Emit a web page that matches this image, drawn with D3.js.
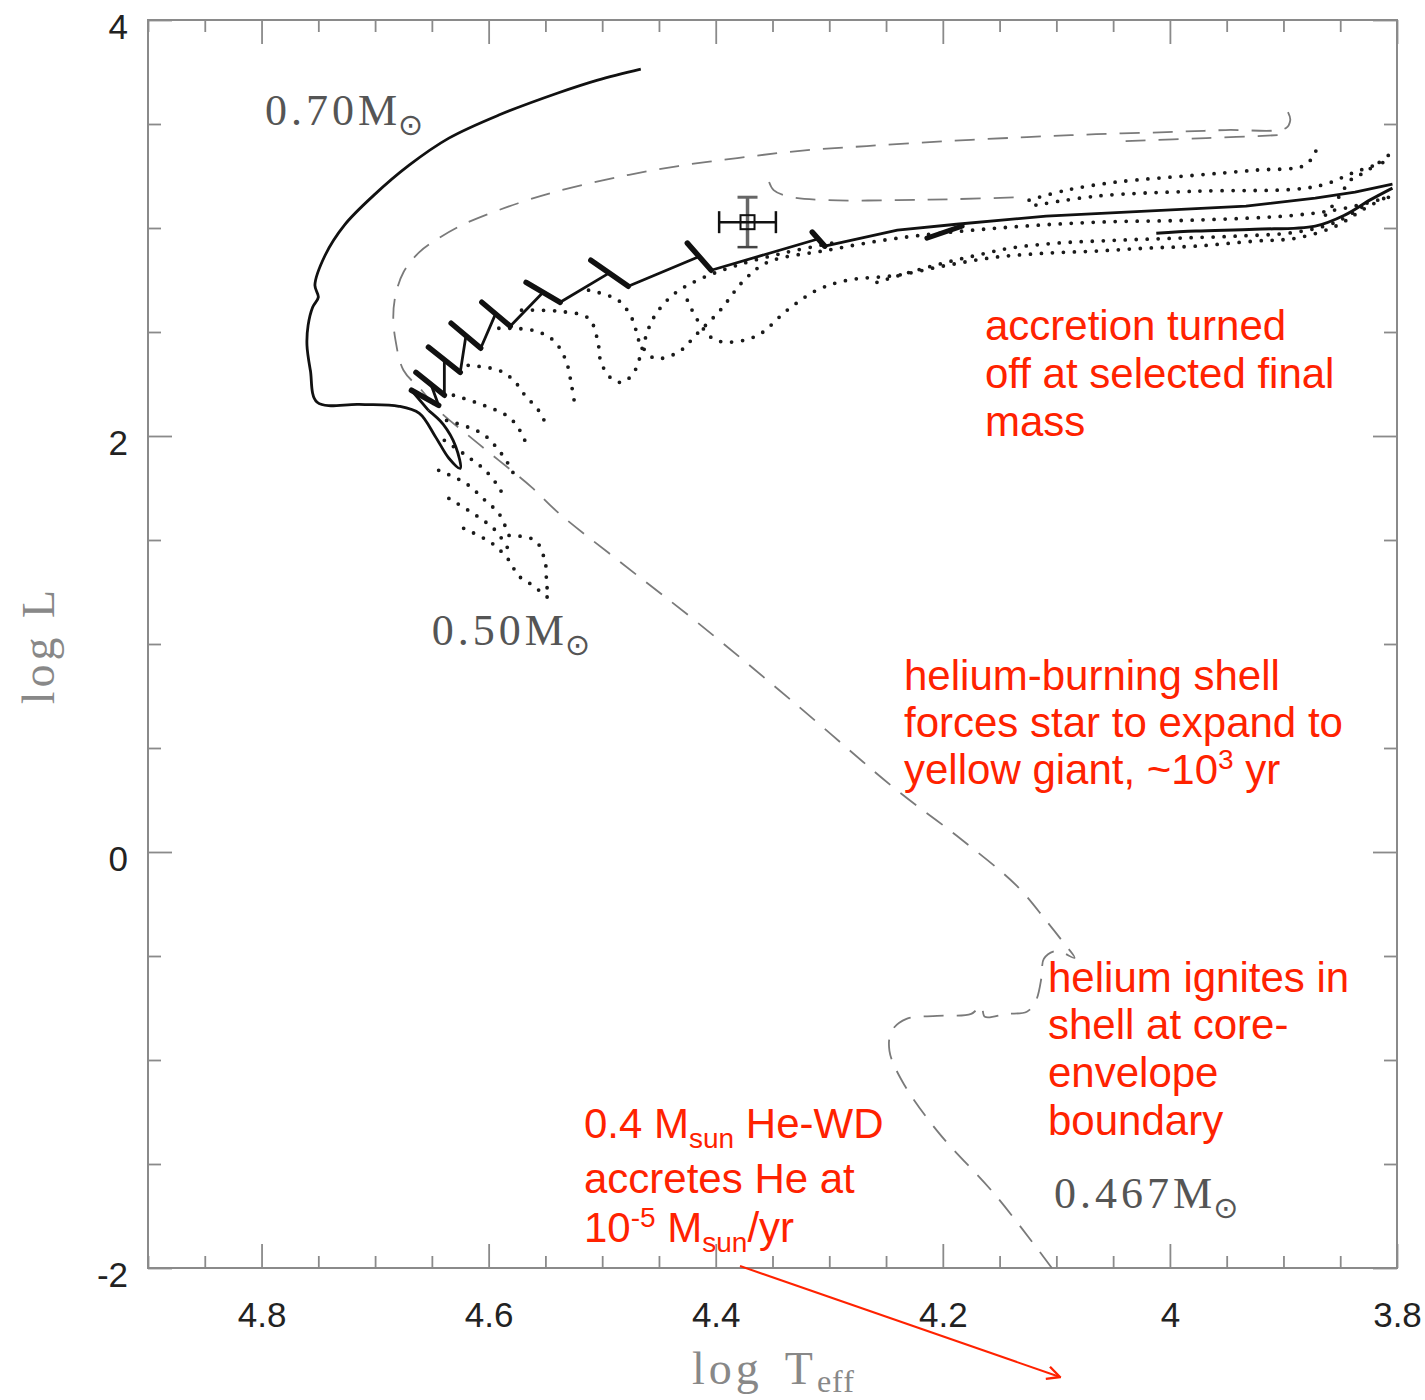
<!DOCTYPE html>
<html>
<head>
<meta charset="utf-8">
<script src="https://cdn.jsdelivr.net/npm/d3@7"></script>
<style>
  body { margin: 0; background: #fff; }
</style>
</head>
<body>
<svg width="1425" height="1400"></svg>
<script>
// all points are [log Teff, log L]

// 0.70 Msun track, smooth part down to the first flash loop
var track070 = [
  [4.466, 3.764], [4.504, 3.711], [4.539, 3.649], [4.591, 3.543], [4.635, 3.432],
  [4.670, 3.302], [4.701, 3.158], [4.727, 3.014], [4.744, 2.869], [4.753, 2.725],
  [4.750, 2.667], [4.755, 2.619], [4.759, 2.532], [4.760, 2.436], [4.757, 2.316],
  [4.751, 2.162], [4.714, 2.152], [4.679, 2.143], [4.661, 2.109], [4.647, 1.998],
  [4.635, 1.893], [4.625, 1.844], [4.629, 1.950], [4.640, 2.056], [4.653, 2.123]
];
// shell flashes (saw teeth: rise, tip, drop) and the run to the red giant branch
var loops070 = [
  [4.653, 2.123], [4.668, 2.220], [4.644, 2.147],
  [4.651, 2.251], [4.664, 2.306], [4.639, 2.196],
  [4.639, 2.367], [4.653, 2.427], [4.625, 2.306],
  [4.620, 2.482], [4.633, 2.542], [4.607, 2.422],
  [4.594, 2.586], [4.606, 2.643], [4.581, 2.528],
  [4.552, 2.691], [4.567, 2.739], [4.537, 2.643],
  [4.494, 2.783], [4.510, 2.845], [4.477, 2.720],
  [4.415, 2.862], [4.425, 2.927], [4.404, 2.797],
  [4.310, 2.947], [4.315, 2.980], [4.304, 2.913],
  [4.240, 2.990], [4.188, 3.018], [4.109, 3.057], [4.021, 3.081],
  [3.933, 3.105], [3.872, 3.144], [3.837, 3.172], [3.804, 3.211]
];
var track070b = [
  [4.012, 2.975], [3.977, 2.985], [3.925, 2.994], [3.872, 3.009],
  [3.846, 3.062], [3.824, 3.134], [3.804, 3.192]
];
var spike070 = [[4.214, 2.951], [4.183, 3.009]];

// 0.467 Msun track (dashed)
var track0467 = [
  [4.104, -2.0], [4.153, -1.654], [4.205, -1.341], [4.236, -1.100], [4.247, -0.956],
  [4.245, -0.860], [4.232, -0.802], [4.205, -0.788], [4.175, -0.778], [4.166, -0.740],
  [4.163, -0.792], [4.144, -0.778], [4.126, -0.768], [4.118, -0.715], [4.113, -0.600],
  [4.111, -0.513], [4.100, -0.475], [4.084, -0.509], [4.093, -0.441], [4.109, -0.330],
  [4.135, -0.162], [4.188, 0.079], [4.240, 0.295], [4.328, 0.704], [4.416, 1.103],
  [4.486, 1.402], [4.539, 1.633], [4.562, 1.753], [4.591, 1.883], [4.618, 2.003],
  [4.644, 2.123], [4.659, 2.220], [4.675, 2.316], [4.682, 2.460], [4.684, 2.571],
  [4.682, 2.677], [4.675, 2.787], [4.661, 2.884], [4.644, 2.951], [4.620, 3.023],
  [4.574, 3.119], [4.539, 3.177], [4.486, 3.245], [4.433, 3.298], [4.381, 3.336],
  [4.328, 3.370], [4.267, 3.394], [4.196, 3.418], [4.126, 3.437], [4.065, 3.451],
  [4.003, 3.461], [3.951, 3.471], [3.898, 3.480], [3.894, 3.519], [3.896, 3.557]
];
var track0467b = [[4.039, 3.418], [3.968, 3.432], [3.902, 3.447]];
var track0467c = [
  [4.353, 3.221], [4.349, 3.182], [4.337, 3.153], [4.302, 3.134],
  [4.240, 3.134], [4.188, 3.139], [4.131, 3.148]
];

// intermediate masses (dotted)
var dotTracks = [
  [[4.124, 3.134], [4.091, 3.182], [4.047, 3.221], [3.977, 3.254], [3.925, 3.278],
   [3.881, 3.302], [3.872, 3.365], [3.868, 3.408]],
  [[4.118, 3.110], [4.065, 3.153], [3.977, 3.177], [3.889, 3.187], [3.863, 3.211],
   [3.837, 3.269], [3.806, 3.326]],
  [[4.571, 2.605], [4.539, 2.600], [4.512, 2.566], [4.504, 2.460], [4.501, 2.354],
   [4.492, 2.277], [4.482, 2.258], [4.471, 2.316], [4.464, 2.436], [4.455, 2.566],
   [4.438, 2.677], [4.416, 2.749], [4.381, 2.821], [4.337, 2.884], [4.293, 2.932]],
  [[4.512, 2.701], [4.486, 2.653], [4.473, 2.557], [4.467, 2.451], [4.454, 2.374],
   [4.433, 2.403], [4.416, 2.494], [4.396, 2.605], [4.375, 2.749], [4.354, 2.836],
   [4.302, 2.893], [4.240, 2.951], [4.153, 2.999], [4.065, 3.028], [3.977, 3.038],
   [3.889, 3.062], [3.846, 3.095], [3.804, 3.153]],
  [[4.425, 2.653], [4.416, 2.557], [4.403, 2.470], [4.389, 2.451], [4.363, 2.484],
   [4.337, 2.605], [4.311, 2.701], [4.284, 2.749], [4.240, 2.773], [4.196, 2.821],
   [4.153, 2.860], [4.109, 2.879], [4.065, 2.889], [4.021, 2.903], [3.977, 2.913],
   [3.925, 2.937], [3.889, 2.951], [3.854, 3.009], [3.828, 3.095], [3.804, 3.163]],
  [[4.258, 2.739], [4.223, 2.797], [4.196, 2.836], [4.170, 2.869], [4.141, 2.903],
   [4.100, 2.927], [4.047, 2.941], [3.995, 2.951], [3.942, 2.961], [3.889, 2.980],
   [3.854, 3.028], [3.828, 3.110]],
  [[3.863, 3.062], [3.850, 3.158], [3.841, 3.230], [3.833, 3.254], [3.819, 3.302],
   [3.804, 3.365]],
  [[4.591, 2.518], [4.561, 2.508], [4.543, 2.460], [4.532, 2.364], [4.527, 2.244],
   [4.524, 2.147]],
  [[4.618, 2.340], [4.591, 2.316], [4.578, 2.268], [4.568, 2.196], [4.556, 2.123],
   [4.549, 2.051]],
  [[4.631, 2.196], [4.604, 2.147], [4.582, 2.090], [4.571, 2.013], [4.565, 1.931]],
  [[4.637, 2.075], [4.606, 2.013], [4.591, 1.931], [4.582, 1.859], [4.576, 1.796]],
  [[4.639, 1.979], [4.620, 1.907], [4.603, 1.835], [4.591, 1.753], [4.585, 1.690]],
  [[4.644, 1.835], [4.620, 1.772], [4.603, 1.690], [4.591, 1.628], [4.585, 1.561]],
  [[4.635, 1.700], [4.611, 1.618], [4.594, 1.546], [4.582, 1.450]],
  [[4.622, 1.556], [4.597, 1.484], [4.582, 1.402], [4.574, 1.330], [4.561, 1.281],
   [4.547, 1.219]],
  [[4.582, 1.522], [4.559, 1.498], [4.550, 1.387], [4.549, 1.291], [4.547, 1.219]]
];

// observed star with error bars
var star = { logT: 4.372, logL: 3.028, errT: 0.025, errL: 0.12 };

var xTicks = [4.8, 4.6, 4.4, 4.2, 4.0, 3.8];
var xTickLabels = ["4.8", "4.6", "4.4", "4.2", "4", "3.8"];
var yTicks = [4, 2, 0, -2];
var yTickLabels = ["4", "2", "0", "-2"];

var massLabels = [
  { text: "0.70M", logT: 4.797, logL: 3.495 },
  { text: "0.50M", logT: 4.650, logL: 0.993 },
  { text: "0.467M", logT: 4.102, logL: -1.711 }
];

main();

function main() {
  var svg = d3.select("svg"),
    margin = { top: 20, right: 28, bottom: 132, left: 148 },
    width = +svg.attr("width") - margin.left - margin.right,
    height = +svg.attr("height") - margin.top - margin.bottom;

  var x = d3.scaleLinear().domain([4.9, 3.8]).range([0, width]);
  var y = d3.scaleLinear().domain([-2, 4]).range([height, 0]);

  var g = svg.append("g").attr("transform", "translate(" + margin.left + "," + margin.top + ")");

  var smooth = d3.line()
    .x(function(d) { return x(d[0]); })
    .y(function(d) { return y(d[1]); })
    .curve(d3.curveCatmullRom.alpha(0.5));
  var sharp = d3.line()
    .x(function(d) { return x(d[0]); })
    .y(function(d) { return y(d[1]); });

  // axes: major and minor ticks on all four sides, pointing inward
  var xMinor = d3.range(3.8, 4.9001, 0.05).filter(function(v) { return Math.abs(v * 5 - Math.round(v * 5)) > 1e-6; });
  var yMinor = [3.5, 3, 2.5, 1.5, 1, 0.5, -0.5, -1, -1.5];

  g.append("g").attr("transform", "translate(0," + height + ")")
    .call(d3.axisBottom(x).tickValues(xTicks).tickSize(-24).tickPadding(34)
      .tickFormat(function(d, i) { return xTickLabels[i]; }));
  g.append("g").attr("transform", "translate(0," + height + ")")
    .call(d3.axisBottom(x).tickValues(xMinor).tickSize(-12).tickFormat(""));
  g.append("g").call(d3.axisTop(x).tickValues(xTicks).tickSize(-24).tickFormat(""));
  g.append("g").call(d3.axisTop(x).tickValues(xMinor).tickSize(-12).tickFormat(""));

  var left = g.append("g")
    .call(d3.axisLeft(y).tickValues(yTicks).tickSize(-24).tickPadding(20)
      .tickFormat(function(d, i) { return yTickLabels[i]; }));
  g.append("g").call(d3.axisLeft(y).tickValues(yMinor).tickSize(-13).tickFormat(""));
  g.append("g").attr("transform", "translate(" + width + ",0)")
    .call(d3.axisRight(y).tickValues(yTicks).tickSize(-24).tickFormat(""));
  g.append("g").attr("transform", "translate(" + width + ",0)")
    .call(d3.axisRight(y).tickValues(yMinor).tickSize(-13).tickFormat(""));

  g.selectAll(".domain").remove();
  g.selectAll(".tick line").attr("stroke", "#8a8a8a").attr("stroke-width", 1.8);
  g.selectAll(".tick text")
    .attr("fill", "#222")
    .style("font-family", "'Liberation Sans', Arial, sans-serif")
    .style("font-size", "35px");
  left.selectAll(".tick text").attr("dy", "0.52em");

  g.append("rect")
    .attr("width", width).attr("height", height)
    .attr("fill", "none").attr("stroke", "#8a8a8a").attr("stroke-width", 2);

  // dashed 0.467 track
  [track0467, track0467b, track0467c].forEach(function(t) {
    g.append("path").datum(t)
      .attr("d", smooth)
      .attr("fill", "none")
      .attr("stroke", "#7a7a7a")
      .attr("stroke-width", 1.8)
      .attr("stroke-dasharray", "20 13");
  });

  // dotted tracks
  g.selectAll(".dots").data(dotTracks).enter().append("path")
    .attr("class", "dots")
    .attr("d", smooth)
    .attr("fill", "none")
    .attr("stroke", "#1a1a1a")
    .attr("stroke-width", 3.8)
    .attr("stroke-linecap", "round")
    .attr("stroke-dasharray", "0 11");

  // solid 0.70 track
  g.append("path").datum(track070).attr("d", smooth)
    .attr("fill", "none").attr("stroke", "#111").attr("stroke-width", 2.8);
  g.append("path").datum(loops070).attr("d", sharp)
    .attr("fill", "none").attr("stroke", "#111").attr("stroke-width", 2.8)
    .attr("stroke-linejoin", "round");
  // each flash runs back and forth over the drop, so the drop reads as a thick spike
  var teeth = [];
  for (var i = 1; i <= 25; i += 3) teeth.push([loops070[i], loops070[i + 1]]);
  g.selectAll(".tooth").data(teeth).enter().append("path")
    .attr("class", "tooth")
    .attr("d", sharp)
    .attr("fill", "none").attr("stroke", "#111").attr("stroke-width", 5.5)
    .attr("stroke-linecap", "round");
  g.append("path").datum(track070b).attr("d", smooth)
    .attr("fill", "none").attr("stroke", "#111").attr("stroke-width", 3);
  g.append("path").datum(spike070).attr("d", sharp)
    .attr("fill", "none").attr("stroke", "#111").attr("stroke-width", 5)
    .attr("stroke-linecap", "round");

  // error-barred point
  var sx = x(star.logT), sy = y(star.logL);
  var eb = g.append("g").attr("fill", "none");
  eb.append("line").attr("x1", sx).attr("x2", sx)
    .attr("y1", y(star.logL + star.errL)).attr("y2", y(star.logL - star.errL))
    .attr("stroke", "#666").attr("stroke-width", 3.5);
  eb.append("line").attr("x1", sx - 10).attr("x2", sx + 10)
    .attr("y1", y(star.logL + star.errL)).attr("y2", y(star.logL + star.errL))
    .attr("stroke", "#666").attr("stroke-width", 3);
  eb.append("line").attr("x1", sx - 10).attr("x2", sx + 10)
    .attr("y1", y(star.logL - star.errL)).attr("y2", y(star.logL - star.errL))
    .attr("stroke", "#444").attr("stroke-width", 2.5);
  eb.append("line").attr("x1", x(star.logT + star.errT)).attr("x2", x(star.logT - star.errT))
    .attr("y1", sy).attr("y2", sy).attr("stroke", "#111").attr("stroke-width", 2.5);
  [star.logT + star.errT, star.logT - star.errT].forEach(function(t) {
    eb.append("line").attr("x1", x(t)).attr("x2", x(t))
      .attr("y1", sy - 11).attr("y2", sy + 11).attr("stroke", "#111").attr("stroke-width", 2.5);
  });
  eb.append("rect").attr("x", sx - 7).attr("y", sy - 7).attr("width", 14).attr("height", 14)
    .attr("stroke", "#111").attr("stroke-width", 2);

  // mass labels
  massLabels.forEach(function(m) {
    var t = g.append("text")
      .attr("x", x(m.logT)).attr("y", y(m.logL))
      .attr("fill", "#555")
      .style("font-family", "'Liberation Serif', 'Times New Roman', serif")
      .style("font-size", "44px")
      .style("letter-spacing", "4px")
      .text(m.text);
    t.append("tspan")
      .attr("dy", 10).attr("dx", -3)
      .style("font-family", "'DejaVu Sans', sans-serif")
      .style("font-size", "30px")
      .style("letter-spacing", "0px")
      .text("\u2299");
  });

  // axis titles
  svg.append("text")
    .attr("transform", "translate(54,645) rotate(-90)")
    .attr("text-anchor", "middle")
    .attr("fill", "#888")
    .style("font-family", "'Liberation Serif', 'Times New Roman', serif")
    .style("font-size", "46px")
    .style("letter-spacing", "4px")
    .text("log L");
  var xt = svg.append("text")
    .attr("x", 692).attr("y", 1384)
    .attr("fill", "#888")
    .style("font-family", "'Liberation Serif', 'Times New Roman', serif")
    .style("font-size", "46px")
    .style("letter-spacing", "4px")
    .text("log");
  xt.append("tspan").attr("dx", 22).text("T");
  xt.append("tspan").attr("dy", 8).style("font-size", "32px").style("letter-spacing", "1px").text("eff");

  // red annotations; small parts are {t, dy} (sub/superscripts)
  var red = "#ff2200";
  function block(x0, baselines, lines) {
    var t = svg.append("g")
      .attr("fill", red)
      .style("font-family", "'Liberation Sans', Arial, sans-serif")
      .style("font-size", "42px");
    lines.forEach(function(parts, i) {
      var tx = t.append("text").attr("x", x0).attr("y", baselines[i]);
      var shift = 0;
      parts.forEach(function(p) {
        if (typeof p === "string") {
          tx.append("tspan").attr("dy", -shift).text(p);
          shift = 0;
        } else {
          tx.append("tspan").attr("dy", p.dy - shift).style("font-size", "28px").text(p.t);
          shift = p.dy;
        }
      });
    });
  }
  block(985, [340, 388, 436], [["accretion turned"], ["off at selected final"], ["mass"]]);
  block(904, [690, 737, 784], [["helium-burning shell"], ["forces star to expand to"],
    ["yellow giant, ~10", { t: "3", dy: -15 }, " yr"]]);
  block(1048, [992, 1039, 1087, 1135], [["helium ignites in"], ["shell at core-"], ["envelope"], ["boundary"]]);
  block(584, [1138, 1193, 1242], [
    ["0.4 M", { t: "sun", dy: 10 }, " He-WD"],
    ["accretes He at"],
    ["10", { t: "-5", dy: -15 }, " M", { t: "sun", dy: 10 }, "/yr"]
  ]);

  // red arrow
  var defs = svg.append("defs");
  defs.append("marker").attr("id", "arr")
    .attr("viewBox", "0 0 10 10").attr("refX", 9).attr("refY", 5)
    .attr("markerWidth", 8).attr("markerHeight", 8).attr("orient", "auto")
    .append("path").attr("d", "M1,1 L9,5 L1,9").attr("fill", "none").attr("stroke", red).attr("stroke-width", 1.5);
  svg.append("line")
    .attr("x1", 740).attr("y1", 1266).attr("x2", 1060).attr("y2", 1377)
    .attr("stroke", red).attr("stroke-width", 2)
    .attr("marker-end", "url(#arr)");
}
</script>
</body>
</html>
